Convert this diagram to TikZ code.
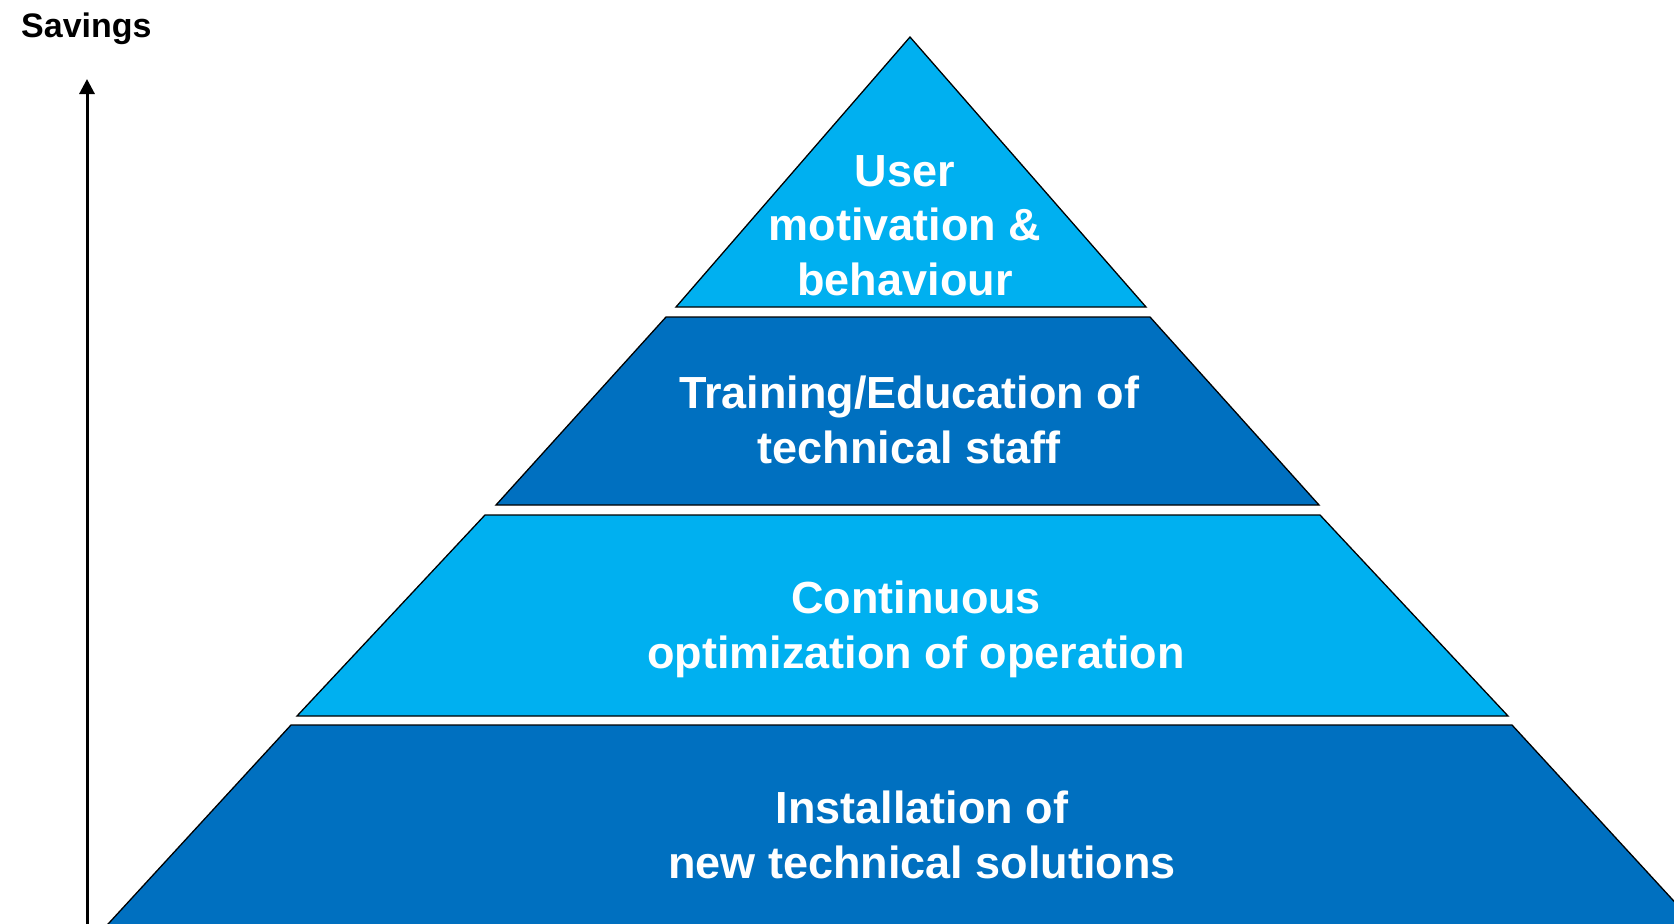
\documentclass[tikz,border=0pt]{standalone}
\usepackage{fontspec}
\setmainfont{Liberation Sans}
\usetikzlibrary{arrows.meta}
\definecolor{lightblue}{HTML}{00B0F0}
\definecolor{darkblue}{HTML}{0070C0}
\tikzset{
  layer/.style={draw=black, line width=1.3pt, line join=miter},
  layertext/.style={text=white, font=\bfseries\fontsize{45}{54.5}\selectfont,
    align=center, anchor=base, inner sep=0pt},
  axis/.style={line width=3pt, -{Triangle[width=15pt,length=15pt]}}
}
\begin{document}
\begin{tikzpicture}[x=1pt,y=-1pt]
  \fill[white] (0,0) rectangle (1674,924);
  \useasboundingbox (0,0) rectangle (1674,924);
  % pyramid layers, top to bottom
  \begin{scope}
    \clip (0,0) rectangle (1674,924);
    \draw[layer, fill=lightblue] (910,37) -- (1146,307) -- (676,307) -- cycle;
    \draw[layer, fill=darkblue] (666,317) -- (1150,317) -- (1319,505) -- (496,505) -- cycle;
    \draw[layer, fill=lightblue] (485,515) -- (1320,515) -- (1508,716) -- (297,716) -- cycle;
    \draw[layer, fill=darkblue] (291,725) -- (1512,725) -- (1728,960) -- (75,960) -- cycle;
  \end{scope}
  % base anchor sits on the last line
  \node[layertext] (motivation) at (905,295) {User\\motivation \&\\behaviour};
  \node[layertext] (training) at (909,463) {Training/Education of\\technical staff};
  \node[layertext] (optimization) at (916,668) {Continuous\\optimization of operation};
  \node[layertext] (installation) at (922,878) {Installation of\\new technical solutions};
  % savings axis
  \coordinate (axisbottom) at (87,930);
  \coordinate (axistop) at (87,79);
  \draw[axis] (axisbottom) -- (axistop);
  \node[anchor=base west, inner sep=0pt, font=\bfseries\fontsize{34}{40}\selectfont] (savings) at (21,37) {Savings};
\end{tikzpicture}
\end{document}
